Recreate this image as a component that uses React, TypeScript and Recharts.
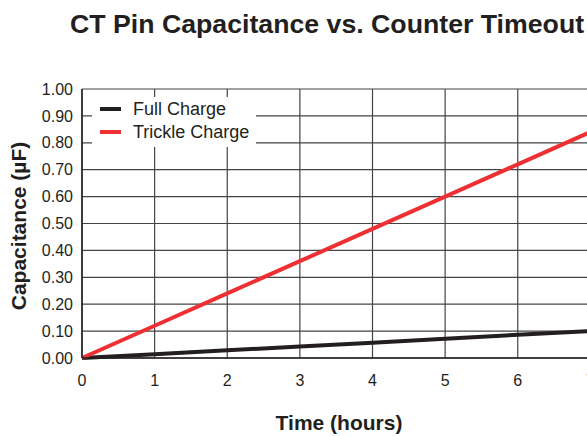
import React from 'react';
import { LineChart, Line, XAxis, YAxis, CartesianGrid, Legend } from 'recharts';

const hours = [0, 1, 2, 3, 4, 5, 6, 7, 8];
const fullCharge = [0, 0.0143, 0.0286, 0.043, 0.057, 0.072, 0.086, 0.1, 0.115];
const trickleCharge = [0, 0.12, 0.24, 0.36, 0.48, 0.6, 0.72, 0.84, 0.96];
const xTicks = [0, 1, 2, 3, 4, 5, 6, 7, 8];
const yTicks = [0, 0.1, 0.2, 0.3, 0.4, 0.5, 0.6, 0.7, 0.8, 0.9, 1.0];

const data = hours.map((h, i) => ({ t: h, full: fullCharge[i], trickle: trickleCharge[i] }));

const FONT = '"Liberation Sans", Arial, Helvetica, sans-serif';

const LegendBox = (props: any) => {
  const items = props.payload || [];
  return (
    <div style={{ background: '#fff', width: 164, height: 50, position: 'relative', fontFamily: FONT }}>
      {items.map((it: any, i: number) => (
        <div key={i} style={{ position: 'absolute', left: 0, top: 1 + i * 23, height: 22, display: 'flex', alignItems: 'center' }}>
          <div style={{ marginLeft: 8, width: 21, height: 4, background: it.color }} />
          <span style={{ marginLeft: 12, fontSize: 18, color: '#231f20', lineHeight: '22px' }}>{it.value}</span>
        </div>
      ))}
    </div>
  );
};

export default function App() {
  return (
    <div style={{ position: 'fixed', left: 0, top: 0, width: 587, height: 436, overflow: 'hidden', background: '#fff' }}>
      <div style={{ position: 'absolute', left: 0, top: 0 }}>
        <LineChart width={700} height={436} data={data} margin={{ top: 89, right: 37, bottom: 0, left: 0 }}>
          <CartesianGrid stroke="#444" strokeWidth={1.2} horizontalValues={yTicks} verticalValues={xTicks} />
          <XAxis
            dataKey="t"
            type="number"
            domain={[0, 8]}
            ticks={xTicks}
            height={78}
            tickLine={false}
            tickSize={0}
            tickMargin={17}
            axisLine={{ stroke: '#231f20', strokeWidth: 1.5 }}
            tick={{ fontSize: 16, fill: '#231f20', fontFamily: FONT }}
            interval={0}
          />
          <YAxis
            type="number"
            domain={[0, 1]}
            ticks={yTicks}
            width={82}
            tickLine={false}
            tickSize={0}
            tickMargin={9}
            axisLine={{ stroke: '#231f20', strokeWidth: 1.5 }}
            tick={{ fontSize: 16, fill: '#231f20', fontFamily: FONT }}
            tickFormatter={(v: number) => v.toFixed(2)}
            interval={0}
          />
          <Legend
            layout="horizontal"
            verticalAlign="middle"
            align="center"
            content={<LegendBox />}
            wrapperStyle={{ position: 'absolute', left: 92, top: 97, width: 164, height: 50 }}
          />
          <Line type="linear" dataKey="full" name="Full Charge" stroke="#231f20" strokeWidth={4} dot={false} isAnimationActive={false} />
          <Line type="linear" dataKey="trickle" name="Trickle Charge" stroke="#ee3035" strokeWidth={4} dot={false} isAnimationActive={false} />
        </LineChart>
      </div>
      <svg width={587} height={436} style={{ position: 'absolute', left: 0, top: 0, pointerEvents: 'none' }}>
        <text x={70} y={33} fontFamily={FONT} fontWeight="bold" fontSize={26.7} fill="#231f20">CT Pin Capacitance vs. Counter Timeout</text>
        <text x={339} y={430} textAnchor="middle" fontFamily={FONT} fontWeight="bold" fontSize={21} fill="#231f20">Time (hours)</text>
        <text x={0} y={0} transform="translate(26,226) rotate(-90)" textAnchor="middle" fontFamily={FONT} fontWeight="bold" fontSize={21} fill="#231f20">Capacitance (µF)</text>
      </svg>
    </div>
  );
}
